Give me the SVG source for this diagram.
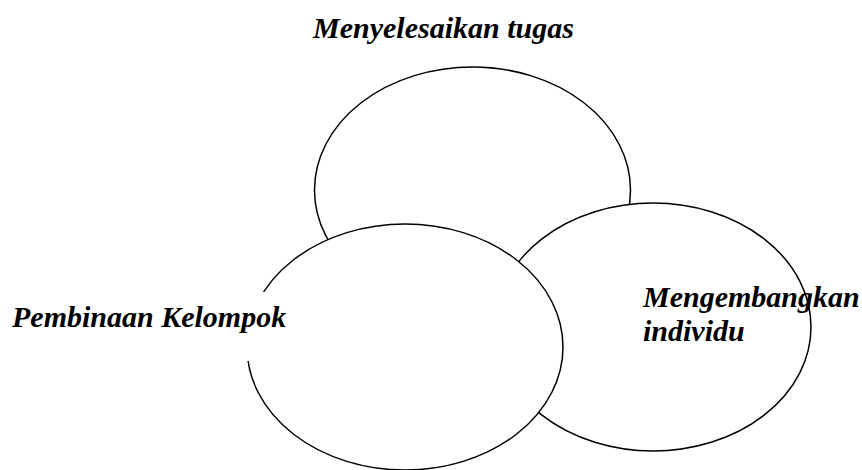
<svg xmlns="http://www.w3.org/2000/svg" width="862" height="470" viewBox="0 0 862 470">
  <style>
    .circle { fill: #ffffff; stroke: #000000; stroke-width: 1.5; }
    .label { font-family: "Liberation Serif", "Times New Roman", Times, "DejaVu Serif", serif; font-weight: 700; font-style: italic; font-size: 30px; fill: #000000; }
  </style>
  <rect width="862" height="470" fill="#ffffff"/>

  <!-- task circle (back) -->
  <g id="menyelesaikan-tugas">
    <ellipse class="circle" cx="472.5" cy="190" rx="158" ry="123"/>
    <text class="label" x="313" y="38">Menyelesaikan tugas</text>
  </g>

  <!-- individual circle (middle) -->
  <g id="mengembangkan-individu">
    <ellipse class="circle" cx="653" cy="327" rx="158" ry="124"/>
    <text class="label" x="643" y="307">Mengembangkan</text>
    <text class="label" x="643" y="341">individu</text>
  </g>

  <!-- group circle (front), label sits on an opaque box over the outline -->
  <g id="pembinaan-kelompok">
    <ellipse class="circle" cx="405" cy="347" rx="158" ry="123"/>
    <rect x="5" y="292" width="285" height="69" fill="#ffffff"/>
    <text class="label" x="12" y="327">Pembinaan Kelompok</text>
  </g>
</svg>
